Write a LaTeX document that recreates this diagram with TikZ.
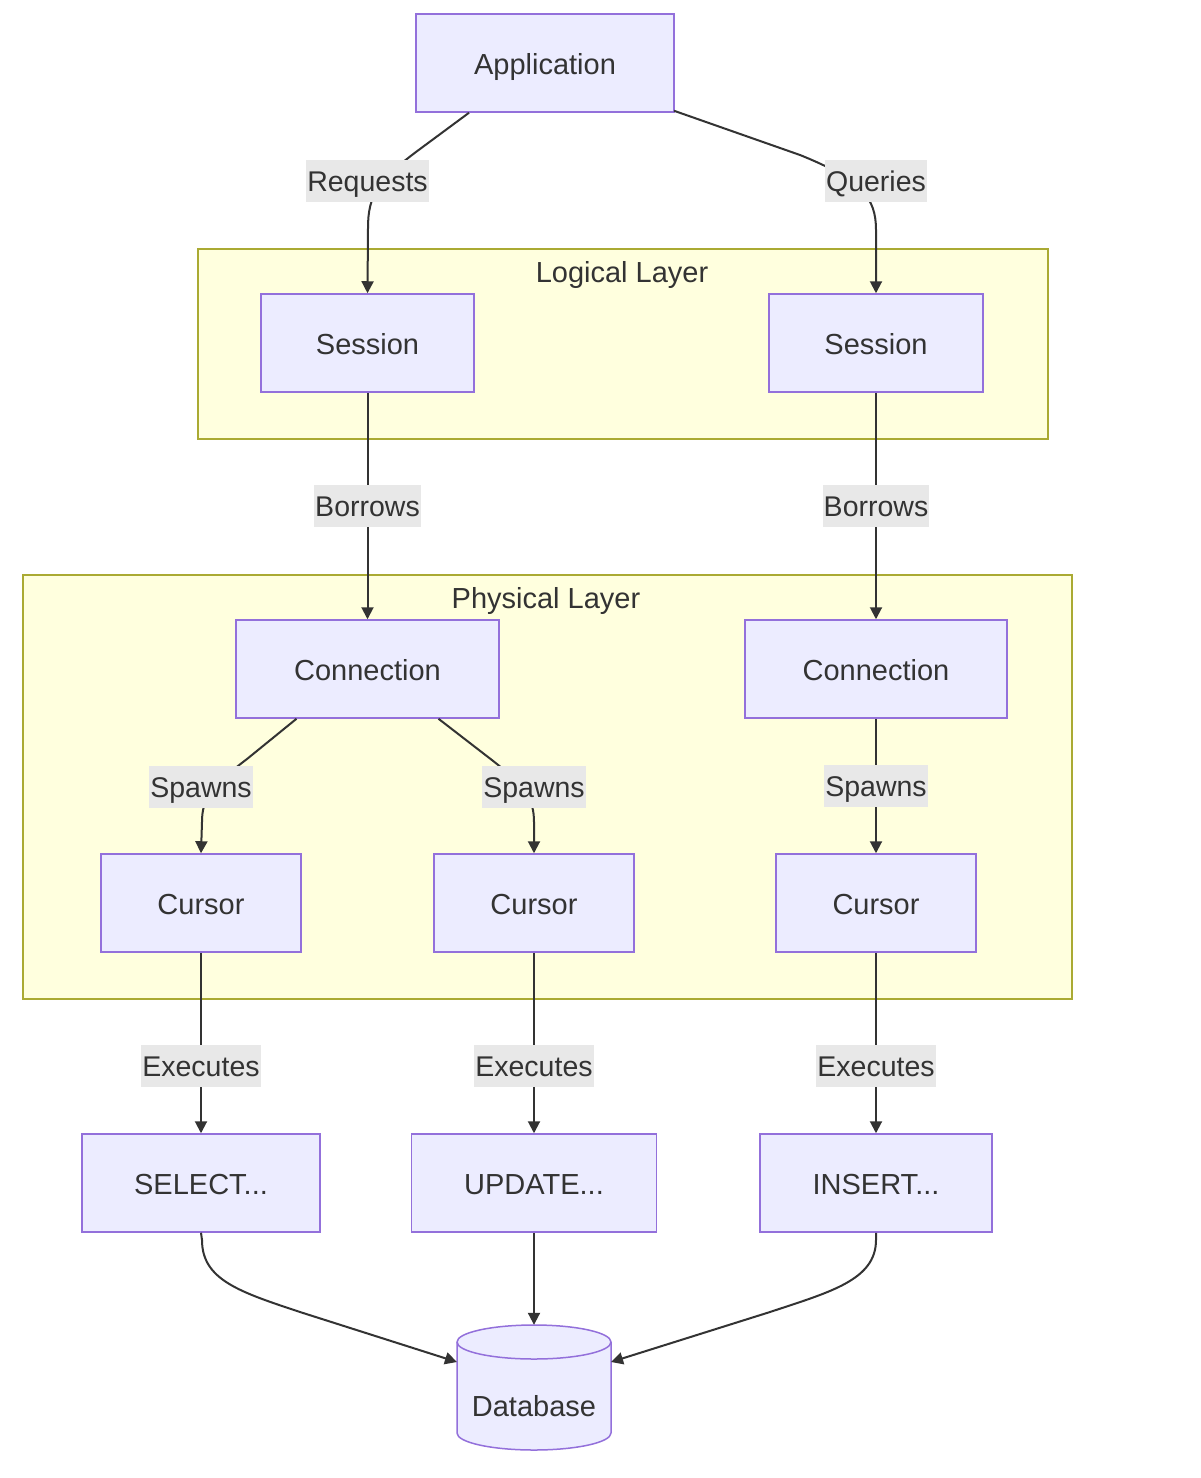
\documentclass[tikz,border=0pt]{standalone}
\usepackage{fontspec}
\setmainfont{Liberation Sans}
\usetikzlibrary{arrows.meta,calc}
\definecolor{nodefill}{HTML}{ECECFF}
\definecolor{nodeborder}{HTML}{9370DB}
\definecolor{clusterfill}{HTML}{FFFFDE}
\definecolor{clusterborder}{HTML}{AAAA33}
\definecolor{lblfill}{HTML}{E8E8E8}
\definecolor{textcol}{HTML}{333333}
\definecolor{edgecol}{HTML}{333333}
\begin{document}
\begin{tikzpicture}[x=1pt,y=-1pt,
 box/.style={draw=nodeborder, fill=nodefill, line width=1.5pt, minimum height=98pt, text=textcol, font=\fontsize{29}{34}\selectfont, inner sep=0pt, text height=24pt, text depth=2pt},
 cluster/.style={draw=clusterborder, fill=clusterfill, line width=1.5pt, inner sep=0pt, anchor=north west},
 ctitle/.style={text=textcol, font=\fontsize{29}{34}\selectfont, inner sep=0pt, text height=24pt, text depth=2pt},
 lbl/.style={fill=lblfill, text=textcol, font=\fontsize{28.5}{34}\selectfont, inner xsep=1pt, inner ysep=6.5pt, text height=25pt, text depth=4pt},
 edge/.style={draw=edgecol, line width=2pt, -{Triangle[length=12pt,width=12pt]}},
 dbshape/.style={draw=nodeborder, fill=nodefill, line width=1.5pt}
]
\fill[white] (0,0) rectangle (1200,1478);
\useasboundingbox (0,0) rectangle (1200,1478);

% clusters
\node[cluster, minimum width=850pt, minimum height=190pt] (logical) at (197,248) {};
\node[ctitle] (logicaltitle) at (622,271) {Logical Layer};
\node[cluster, minimum width=1049pt, minimum height=424pt] (physical) at (22,574) {};
\node[ctitle] (physicaltitle) at (546,597) {Physical Layer};

% nodes
\node[box, minimum width=258pt] (app) at (545,63) {Application};
\node[box, minimum width=213pt] (s1) at (367.5,343) {Session};
\node[box, minimum width=214pt] (s2) at (876,343) {Session};
\node[box, minimum width=263pt] (c1) at (367.5,669) {Connection};
\node[box, minimum width=262pt] (c2) at (876,669) {Connection};
\node[box, minimum width=200pt] (k1) at (201,903) {Cursor};
\node[box, minimum width=200pt] (k2) at (534,903) {Cursor};
\node[box, minimum width=200pt] (k3) at (876,903) {Cursor};
\node[box, minimum width=238pt] (q1) at (201,1183) {SELECT...};
\node[box, minimum width=245pt] (q2) at (534,1183) {UPDATE...};
\node[box, minimum width=232pt] (q3) at (876,1183) {INSERT...};

% database cylinder
\draw[dbshape] (457,1342) -- (457,1433) arc[start angle=180, end angle=0, x radius=77, y radius=17] -- (611,1342) arc[start angle=0, end angle=-180, x radius=77, y radius=17] -- cycle;
\draw[dbshape, fill=none] (457,1342) arc[start angle=180, end angle=0, x radius=77, y radius=17];
\node[minimum width=154pt, minimum height=125pt, inner sep=0pt] (db) at (534,1387.5) {};
\node[text=textcol, font=\fontsize{29}{34}\selectfont, inner sep=0pt, text height=24pt, text depth=2pt] (dbtext) at (534,1405) {Database};
\coordinate (dbL) at (457,1362);
\coordinate (dbR) at (611,1362);

% curved edges from application
\draw[edge] ($(app.south)+(-76,0)$) -- (420,149) .. controls (378,180) and (368,195) .. (368,228) -- (s1.north);
\node[lbl] (lreq) at (367.5,181) {Requests};
\draw[edge] ($(app.south)+(129,-2)$) -- (800,155) .. controls (862,180) and (876,198) .. (876,230) -- (s2.north);
\node[lbl] (lqry) at (876,181) {Queries};

% borrows
\draw[edge] (s1.south) -- (c1.north) node[lbl, midway] (lb1) {Borrows};
\draw[edge] (s2.south) -- (c2.north) node[lbl, midway] (lb2) {Borrows};

% spawns
\draw[edge] ($(c1.south)+(-71,0)$) -- (247,759) .. controls (210,787) and (202,800) .. (202,822) -- (k1.north);
\node[lbl] (lsp1) at (201,787) {Spawns};
\draw[edge] ($(c1.south)+(71,0)$) -- (488,757) .. controls (526,786) and (534,800) .. (534,822) -- (k2.north);
\node[lbl] (lsp2) at (534,787) {Spawns};
\draw[edge] (c2.south) -- (k3.north) node[lbl, midway] (lsp3) {Spawns};

% executes
\draw[edge] (k1.south) -- (q1.north) node[lbl, pos=0.63] (le1) {Executes};
\draw[edge] (k2.south) -- (q2.north) node[lbl, pos=0.63] (le2) {Executes};
\draw[edge] (k3.south) -- (q3.north) node[lbl, pos=0.63] (le3) {Executes};

% to database
\draw[edge] (q1.south) -- (202,1240) .. controls (202,1280) and (240,1292) .. (300,1312) -- (dbL);
\draw[edge] (q2.south) -- (db.north);
\draw[edge] (q3.south) -- (876,1240) .. controls (876,1280) and (830,1292) .. (770,1312) -- (dbR);
\end{tikzpicture}
\end{document}
